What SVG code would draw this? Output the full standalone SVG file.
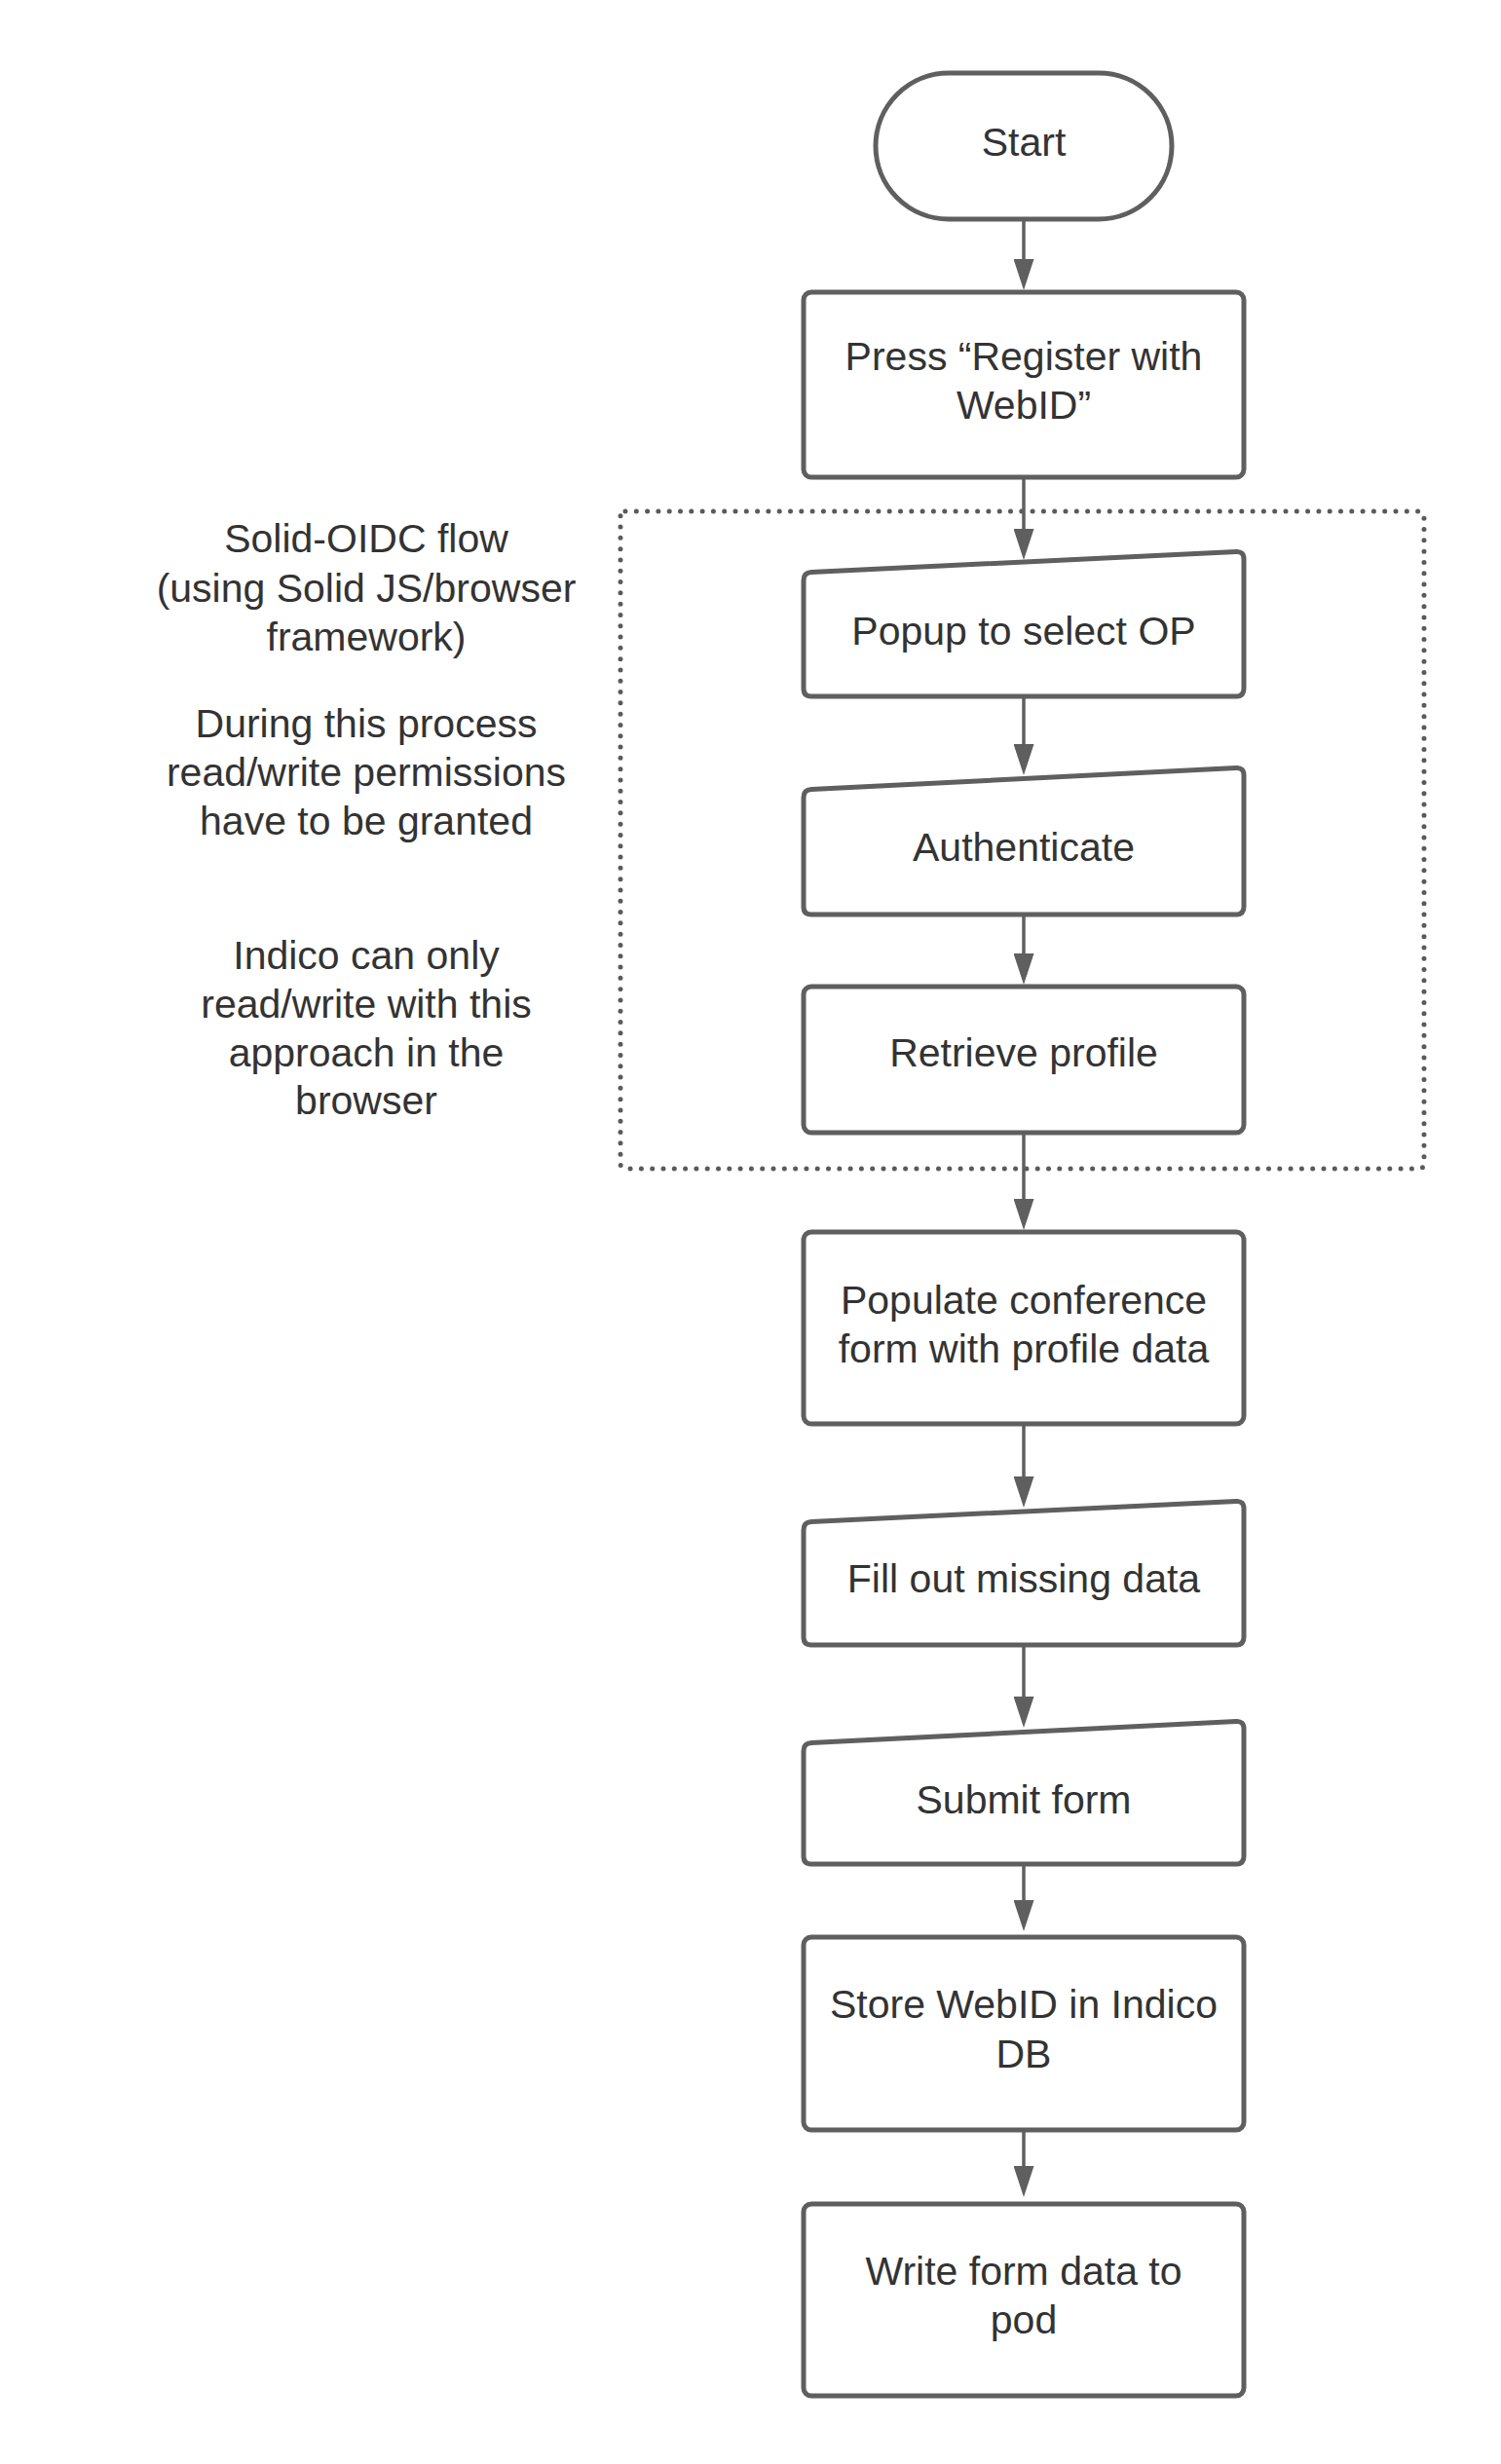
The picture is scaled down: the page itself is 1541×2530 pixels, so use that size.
<svg xmlns="http://www.w3.org/2000/svg" width="1541" height="2530" viewBox="0 0 1541 2530">
<defs>
<style>
.box{fill:#ffffff;stroke:#5f5f5f;stroke-width:5;stroke-linejoin:round}
.t{font-family:"Liberation Sans",Arial,sans-serif;font-size:41px;fill:#333333;text-anchor:middle}
.c{fill:none;stroke:#5f5f5f;stroke-width:3.5}
.grp{fill:none;stroke:#5a5a5a;stroke-width:5;stroke-linecap:round;stroke-dasharray:0 11.3}
</style>
<marker id="ah" markerUnits="userSpaceOnUse" markerWidth="32" markerHeight="21" refX="22" refY="10.5" orient="auto">
<path d="M0,0 L32,10.5 L0,21 Z" fill="#5f5f5f"/>
</marker>
</defs>
<rect width="1541" height="2530" fill="#ffffff"/>

<g id="group-solid-oidc">
<rect class="grp" x="637" y="525" width="825" height="675" rx="5"/>
</g>

<g id="connectors">
<path class="c" d="M1051,225 V288" marker-end="url(#ah)"/>
<path class="c" d="M1051,490 V565" marker-end="url(#ah)"/>
<path class="c" d="M1051,715 V786" marker-end="url(#ah)"/>
<path class="c" d="M1051,939 V1001" marker-end="url(#ah)"/>
<path class="c" d="M1051,1163 V1253" marker-end="url(#ah)"/>
<path class="c" d="M1051,1462 V1538" marker-end="url(#ah)"/>
<path class="c" d="M1051,1689 V1764" marker-end="url(#ah)"/>
<path class="c" d="M1051,1914 V1973" marker-end="url(#ah)"/>
<path class="c" d="M1051,2187 V2246" marker-end="url(#ah)"/>
</g>

<g id="node-start">
<rect class="box" x="899" y="75" width="304" height="150" rx="75"/>
<text class="t" x="1051" y="160">Start</text>
</g>

<g id="node-press">
<rect class="box" x="825" y="300" width="452" height="190" rx="8"/>
<text class="t" x="1051" y="380">Press “Register with</text>
<text class="t" x="1051" y="430">WebID”</text>
</g>

<g id="node-popup">
<path class="box" d="M825,596 Q825,588 833,587.6 L1269,566.4 Q1277,566 1277,574 L1277,707 Q1277,715 1269,715 L833,715 Q825,715 825,707 Z"/>
<text class="t" x="1051" y="661.5">Popup to select OP</text>
</g>

<g id="node-authenticate">
<path class="box" d="M825,819 Q825,811 833,810.6 L1269,788.4 Q1277,788 1277,796 L1277,931 Q1277,939 1269,939 L833,939 Q825,939 825,931 Z"/>
<text class="t" x="1051" y="884">Authenticate</text>
</g>

<g id="node-retrieve">
<rect class="box" x="825" y="1013" width="452" height="150" rx="8"/>
<text class="t" x="1051" y="1095">Retrieve profile</text>
</g>

<g id="node-populate">
<rect class="box" x="825" y="1265" width="452" height="197" rx="8"/>
<text class="t" x="1051" y="1349">Populate conference</text>
<text class="t" x="1051" y="1399">form with profile data</text>
</g>

<g id="node-fill">
<path class="box" d="M825,1571 Q825,1563 833,1562.6 L1269,1541.4 Q1277,1541 1277,1549 L1277,1681 Q1277,1689 1269,1689 L833,1689 Q825,1689 825,1681 Z"/>
<text class="t" x="1051" y="1635">Fill out missing data</text>
</g>

<g id="node-submit">
<path class="box" d="M825,1798 Q825,1790 833,1789.6 L1269,1767.4 Q1277,1767 1277,1775 L1277,1906 Q1277,1914 1269,1914 L833,1914 Q825,1914 825,1906 Z"/>
<text class="t" x="1051" y="1861.5">Submit form</text>
</g>

<g id="node-store">
<rect class="box" x="825" y="1989" width="452" height="198" rx="8"/>
<text class="t" x="1051" y="2072">Store WebID in Indico</text>
<text class="t" x="1051" y="2122.5">DB</text>
</g>

<g id="node-write">
<rect class="box" x="825" y="2263" width="452" height="197" rx="8"/>
<text class="t" x="1051" y="2346">Write form data to</text>
<text class="t" x="1051" y="2396">pod</text>
</g>

<g id="note-oidc">
<text class="t" x="376" y="567">Solid-OIDC flow</text>
<text class="t" x="376" y="617.5">(using Solid JS/browser</text>
<text class="t" x="376" y="668">framework)</text>
</g>

<g id="note-permissions">
<text class="t" x="376" y="756.5">During this process</text>
<text class="t" x="376" y="806.5">read/write permissions</text>
<text class="t" x="376" y="856.5">have to be granted</text>
</g>

<g id="note-indico">
<text class="t" x="376" y="995">Indico can only</text>
<text class="t" x="376" y="1044.5">read/write with this</text>
<text class="t" x="376" y="1094.5">approach in the</text>
<text class="t" x="376" y="1144">browser</text>
</g>
</svg>
